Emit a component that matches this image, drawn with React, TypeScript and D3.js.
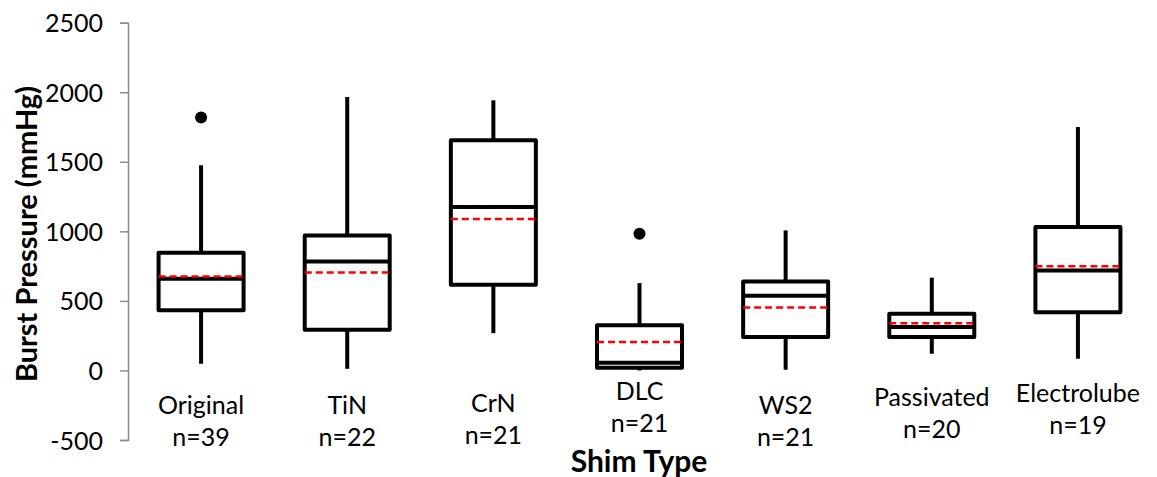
import React, { useEffect, useRef } from 'react';
import * as d3 from 'd3';

const categories = ['Original', 'TiN', 'CrN', 'DLC', 'WS2', 'Passivated', 'Electrolube'];
const counts = [39, 22, 21, 21, 21, 20, 19];
const whiskerLow = [48, 12, 268, 0, 5, 120, 84];
const q1 = [432, 293, 616, 20, 240, 240, 419];
const median = [660, 784, 1175, 55, 537, 312, 719];
const q3 = [847, 971, 1655, 325, 640, 408, 1031];
const whiskerHigh = [1475, 1966, 1942, 628, 1007, 667, 1750];
const means = [676, 705, 1089, 205, 453, 340, 750];
const outliers: number[][] = [[1818], [], [], [983], [], [], []];
const yTicks = [-500, 0, 500, 1000, 1500, 2000, 2500];

// labels in the original sit at slightly different heights
const labelShift = [0, 0, -2, -14, 0, -8, -12];

const WIDTH = 1157;
const HEIGHT = 477;
const FONT = 'Lato, "Open Sans", sans-serif';

const x = d3.scaleBand<string>().domain(categories).range([128, 1151]);
const y = d3.scaleLinear().domain([-500, 2500]).range([440, 22.7]);

const YAxis = () => {
    const ref = useRef<SVGGElement>(null);
    useEffect(() => {
        if (!ref.current) return;
        const g = d3.select(ref.current);
        g.call(d3.axisLeft(y).tickValues(yTicks).tickSize(8).tickPadding(17).tickFormat(d => String(d)) as any);
        g.selectAll('path').attr('stroke', '#8c8c8c').attr('stroke-width', 1.5);
        g.selectAll('line').attr('stroke', '#8c8c8c').attr('stroke-width', 1.5);
        g.selectAll('text')
            .attr('font-family', FONT)
            .attr('font-size', 25)
            .attr('fill', '#000')
            .attr('dy', '0.36em');
    }, []);
    return <g ref={ref} transform={`translate(${x.range()[0]},0)`} />;
};

export default function App() {
    const boxW = 85;
    return (
        <div style={{ position: 'absolute', left: 0, top: 0 }}>
            <svg width={WIDTH} height={HEIGHT} style={{ display: 'block', background: '#fff' }}>
                <YAxis />
                {categories.map((c, i) => {
                    const cx = (x(c) as number) + x.bandwidth() / 2;
                    const x0 = cx - boxW / 2, x1 = cx + boxW / 2;
                    return (
                        <g key={c}>
                            <line x1={cx} x2={cx} y1={y(whiskerHigh[i])} y2={y(q3[i])} stroke='#000' strokeWidth={4} />
                            <line x1={cx} x2={cx} y1={y(q1[i])} y2={y(whiskerLow[i])} stroke='#000' strokeWidth={4} />
                            <rect x={x0} y={y(q3[i])} width={boxW} height={y(q1[i]) - y(q3[i])}
                                fill='#fff' stroke='#000' strokeWidth={4} strokeLinejoin='round' />
                            <line x1={x0} x2={x1} y1={y(median[i])} y2={y(median[i])} stroke='#000' strokeWidth={4} />
                            <line x1={x0} x2={x1} y1={y(means[i])} y2={y(means[i])} stroke='#ff0000' strokeWidth={2.5} strokeDasharray='7,4' />
                            {outliers[i].map((o, j) => (
                                <circle key={j} cx={cx} cy={y(o)} r={6} fill='#000' />
                            ))}
                            <text x={cx} y={414 + labelShift[i]} textAnchor='middle' fontFamily={FONT} fontSize={25}>{c}</text>
                            <text x={cx} y={446 + labelShift[i]} textAnchor='middle' fontFamily={FONT} fontSize={25}>{`n=${counts[i]}`}</text>
                        </g>
                    );
                })}
                <text transform={`translate(37,234) rotate(-90)`} textAnchor='middle' fontFamily={FONT} fontSize={29} fontWeight='bold'>Burst Pressure (mmHg)</text>
                <text x={639} y={472} textAnchor='middle' fontFamily={FONT} fontSize={30} fontWeight='bold'>Shim Type</text>
            </svg>
        </div>
    );
}
